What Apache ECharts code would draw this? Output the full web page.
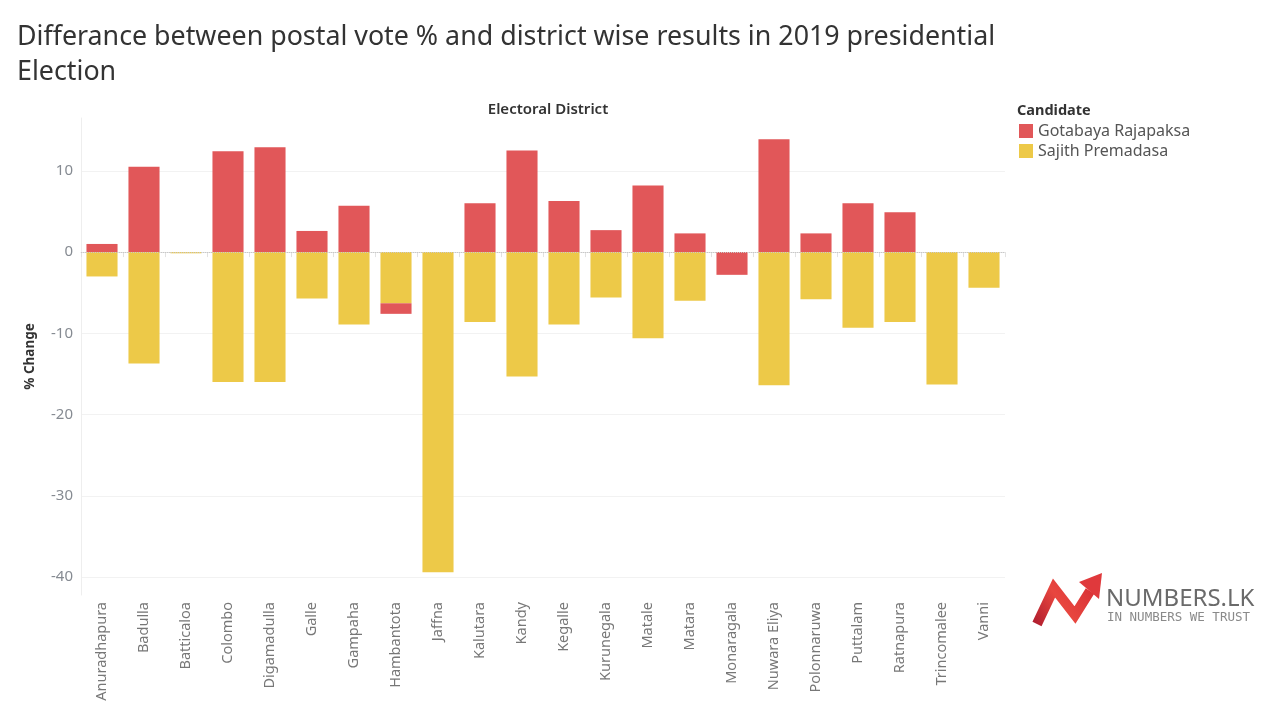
<!DOCTYPE html>
<html>
<head>
<meta charset="utf-8">
<title>Postal vote difference 2019</title>
<script src="https://cdn.jsdelivr.net/npm/echarts@6/dist/echarts.min.js"></script>
<style>
  html, body { margin: 0; padding: 0; background: #fff; }
  #chart { width: 1280px; height: 720px; }
</style>
</head>
<body>
<div id="chart"></div>
<script>
// Districts on the x axis
const districts = [
    'Anuradhapura', 'Badulla', 'Batticaloa', 'Colombo', 'Digamadulla', 'Galle',
    'Gampaha', 'Hambantota', 'Jaffna', 'Kalutara', 'Kandy', 'Kegalle',
    'Kurunegala', 'Matale', 'Matara', 'Monaragala', 'Nuwara Eliya', 'Polonnaruwa',
    'Puttalam', 'Ratnapura', 'Trincomalee', 'Vanni'
];

// % change (postal vote vs district result)
// null = no visible bar for that candidate
const gotabaya = [1.0, 10.5, null, 12.4, 12.9, 2.6, 5.7, -1.3, null, 6.0, 12.5, 6.3,
    2.7, 8.2, 2.3, -2.8, 13.9, 2.3, 6.0, 4.9, null, null];
const sajith = [-3.0, -13.7, -0.15, -16.0, -16.0, -5.7, -8.9, -6.3, -39.4, -8.6, -15.3, -8.9,
    -5.6, -10.6, -6.0, null, -16.4, -5.8, -9.3, -8.6, -16.3, -4.4];

const candidates = ['Gotabaya Rajapaksa', 'Sajith Premadasa'];
const yTicks = [-40, -30, -20, -10, 0, 10];

const RED = '#E15759';
const YELLOW = '#EDC948';

document.addEventListener('DOMContentLoaded', function() {
    drawChart();
});

function drawChart() {
    const myChart = echarts.init(document.getElementById('chart'));

    const option = {
        backgroundColor: '#fff',
        animation: false,
        textStyle: { fontFamily: 'Noto Sans' },
        title: [
            {
                text: 'Differance between postal vote % and district wise results in 2019 presidential\nElection',
                left: 12, top: 15,
                textStyle: { fontSize: 26.8, fontWeight: 'normal', color: '#333', lineHeight: 35, fontFamily: 'Noto Sans' }
            },
            {
                text: 'Electoral District',
                left: 543, top: 97, textAlign: 'center',
                textStyle: { fontSize: 15, fontWeight: 600, color: '#333', fontFamily: 'Noto Sans' }
            },
            {
                text: 'Candidate',
                left: 1012, top: 98,
                textStyle: { fontSize: 14.5, fontWeight: 'bold', color: '#333', fontFamily: 'Noto Sans' }
            }
        ],
        legend: {
            data: candidates,
            orient: 'vertical',
            left: 1014, top: 118,
            icon: 'rect',
            itemWidth: 14, itemHeight: 14, itemGap: 4,
            textStyle: { fontSize: 16, color: '#555', fontFamily: 'Noto Sans' }
        },
        grid: { left: 81, right: 275, top: 118, bottom: 125 },
        xAxis: {
            type: 'category',
            data: districts,
            axisLine: { lineStyle: { color: '#e2e2e2' } },
            axisTick: { show: true, length: 5, lineStyle: { color: '#e2e2e2' } },
            axisLabel: { rotate: 90, margin: 7, fontSize: 14.5, color: '#777', interval: 0 },
            splitLine: { show: false }
        },
        yAxis: {
            type: 'value',
            min: -42.2, max: 16.5,
            name: '% Change',
            nameLocation: 'middle',
            nameRotate: 90,
            nameGap: 44,
            nameTextStyle: { fontSize: 13.5, fontWeight: 'bold', color: '#333' },
            axisLine: { show: true, lineStyle: { color: '#eeeeee' } },
            axisTick: { show: false },
            axisLabel: {
                fontSize: 15, color: '#868b92', margin: 8,
                showMinLabel: false, showMaxLabel: false,
                formatter: function(v) { return yTicks.indexOf(v) >= 0 ? String(v) : ''; }
            },
            splitLine: { showMinLine: false, showMaxLine: false, lineStyle: { color: '#f2f2f2' } }
        },
        series: [
            {
                name: candidates[1],
                type: 'bar',
                stack: 'total',
                data: sajith,
                barCategoryGap: '26%',
                itemStyle: { color: YELLOW },
                markLine: {
                    silent: true,
                    symbol: 'none',
                    label: { show: false },
                    lineStyle: { color: '#c8c8c8', type: 'dotted', width: 1 },
                    data: [{ yAxis: 0 }]
                }
            },
            {
                name: candidates[0],
                type: 'bar',
                stack: 'total',
                data: gotabaya,
                barCategoryGap: '26%',
                itemStyle: { color: RED }
            }
        ],
        graphic: buildLogo()
    };

    myChart.setOption(option);
    window.addEventListener('resize', () => myChart.resize());
}

// NUMBERS.LK logo in the lower right corner
function buildLogo() {
    const grad = new echarts.graphic.LinearGradient(0, 1, 1, 0, [
        { offset: 0, color: '#a8182c' },
        { offset: 0.5, color: '#e8463f' },
        { offset: 1, color: '#d62f35' }
    ]);
    return [
        {
            type: 'polyline',
            shape: { points: [[1037, 624], [1054, 588], [1075, 615], [1090, 591]] },
            style: { stroke: grad, lineWidth: 10, fill: null, lineJoin: 'miter', lineCap: 'butt' }
        },
        {
            type: 'polygon',
            shape: { points: [[1102, 573], [1079, 582], [1099, 599]] },
            style: { fill: '#e0393c' }
        },
        {
            type: 'text',
            left: 1106, top: 587,
            style: { text: 'NUMBERS.LK', fontSize: 24, fill: '#6a6a6a', fontFamily: 'Noto Sans' }
        },
        {
            type: 'text',
            left: 1107, top: 611,
            style: { text: 'IN NUMBERS WE TRUST', fontSize: 12.5, fill: '#8a8a8a', fontFamily: 'DejaVu Sans Mono' }
        }
    ];
}
</script>
</body>
</html>
